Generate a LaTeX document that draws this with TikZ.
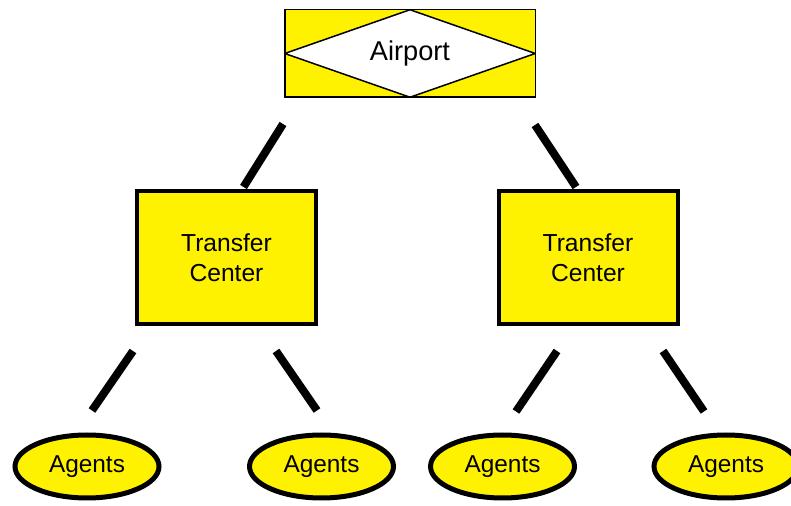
\documentclass[tikz,border=0pt]{standalone}
\usepackage{fontspec}
\setmainfont{Liberation Sans}
\usetikzlibrary{shapes.geometric, calc}

\tikzset{
    hub/.style={draw, line width=0.75pt, fill=yellow, minimum width=125.25pt, minimum height=43.75pt, inner sep=0pt,
        font=\fontsize{13.6}{16}\selectfont,
        path picture={\draw[line width=0.75pt, fill=white] (path picture bounding box.north) -- (path picture bounding box.east) -- (path picture bounding box.south) -- (path picture bounding box.west) -- cycle;}},
    center box/.style={draw, line width=2pt, fill=yellow, minimum width=89.5pt, minimum height=66.5pt, align=center,
        font=\fontsize{12.3}{15}\selectfont},
    agent/.style={draw, ellipse, line width=2.5pt, fill=yellow, minimum width=72pt, minimum height=31.5pt, inner sep=0pt,
        font=\fontsize{12.2}{14}\selectfont},
    link/.style={line width=4pt}
}

\begin{document}
\begin{tikzpicture}[x=0.5pt, y=-0.5pt]
    \useasboundingbox (0,0) rectangle (791,506);
    % Airport
    \node[hub] (air) at (410,53.5) {Airport};
    % Transfer centers
    \node[center box] (tc1) at (226.5,257.5) {Transfer\\Center};
    \node[center box] (tc2) at (588,257.5) {Transfer\\Center};
    % Agents
    \node[agent] (ag1) at (87,466.5) {Agents};
    \node[agent] (ag2) at (321.5,466.5) {Agents};
    \node[agent] (ag3) at (502.5,466.5) {Agents};
    \node[agent] (ag4) at (726,466.5) {Agents};
    % Links (gaps left on purpose)
    \draw[link] ($(air.south)+(-127,26)$) -- ($(tc1.north)+(17,-2)$);
    \draw[link] ($(air.south)+(125,27)$) -- ($(tc2.north)+(-12,-2)$);
    \draw[link] ($(tc1.south)+(-93.5,25)$) -- ($(ag1.north)+(5,-22)$);
    \draw[link] ($(tc1.south)+(49.5,25)$) -- ($(ag2.north)+(-4.5,-22)$);
    \draw[link] ($(tc2.south)+(-31,25)$) -- ($(ag3.north)+(13.5,-21)$);
    \draw[link] ($(tc2.south)+(75,25)$) -- ($(ag4.north)+(-22,-21)$);
\end{tikzpicture}
\end{document}
